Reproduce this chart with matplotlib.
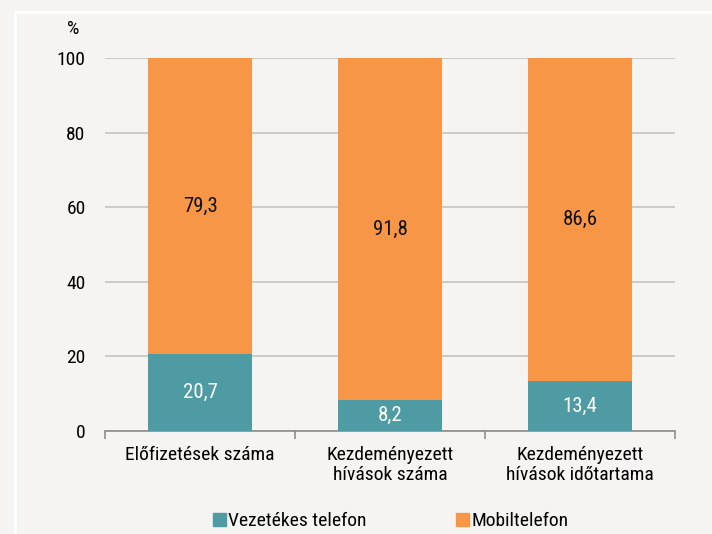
import matplotlib
matplotlib.use("Agg")
import matplotlib.pyplot as plt
from matplotlib.patches import Rectangle, Patch

plt.rcParams['font.family'] = ['Roboto Condensed', 'Liberation Sans', 'DejaVu Sans']

categories = ["Előfizetések száma", "Kezdeményezett\nhívások száma", "Kezdeményezett\nhívások időtartama"]
vezetekes = [20.7, 8.2, 13.4]
mobil = [79.3, 91.8, 86.6]
series_names = ["Vezetékes telefon", "Mobiltelefon"]
yticks = [0, 20, 40, 60, 80, 100]

teal = "#4f9ba4"
orange = "#f79646"
bg = "#f5f4f2"
FS = 14

fig = plt.figure(figsize=(7.12, 5.34), dpi=100, facecolor=bg)
fig.patches.append(Rectangle((15/712, -0.1), 1.2, 1 - 12/534 + 0.1, transform=fig.transFigure,
                             fill=False, edgecolor="white", lw=1.8, zorder=0))
ax = fig.add_axes([105/712, 1 - 431/534, 570/712, 373/534])
ax.set_facecolor(bg)

x = list(range(len(categories)))
w = 0.55
ax.bar(x, vezetekes, width=w, color=teal, zorder=3, label=series_names[0])
ax.bar(x, mobil, width=w, bottom=vezetekes, color=orange, zorder=3, label=series_names[1])

for i in x:
    ax.text(i, vezetekes[i] / 2, f"{vezetekes[i]:.1f}".replace(".", ","), ha="center", va="center",
            color="white", fontsize=FS + 1, zorder=4)
    ax.text(i, vezetekes[i] + mobil[i] / 2, f"{mobil[i]:.1f}".replace(".", ","), ha="center", va="center",
            color="#111111", fontsize=FS + 1, zorder=4)

ax.set_xlim(-0.5, 2.5)
ax.set_ylim(0, 100)
ax.set_yticks(yticks)
ax.set_yticklabels([str(t) for t in yticks], fontsize=FS)
ax.yaxis.grid(True, color="#c3c3c3", lw=1.2, zorder=0)
ax.set_axisbelow(True)
ax.tick_params(axis="y", length=0, pad=14)

ax.set_xticks([-0.5, 0.5, 1.5, 2.5])
ax.set_xticklabels([])
ax.set_xticks(x, minor=True)
ax.set_xticklabels(categories, minor=True, fontsize=FS, linespacing=1.1)
ax.tick_params(axis="x", which="major", length=6, color="#8c8c8c", width=1.2)
ax.tick_params(axis="x", which="minor", length=0, pad=11)

for s in ["top", "right", "left"]:
    ax.spines[s].set_visible(False)
ax.spines["bottom"].set_color("#8c8c8c")
ax.spines["bottom"].set_linewidth(1.2)

fig.text(73/712, 1 - 29/534, "%", ha="center", va="center", fontsize=FS)

handles = [Patch(color=teal), Patch(color=orange)]
fig.legend(handles, series_names, loc="center", bbox_to_anchor=(391/712, 1 - 521/534), ncol=2,
           frameon=False, fontsize=FS, handlelength=0.65, handleheight=0.65, handletextpad=0.15,
           columnspacing=4.6, borderpad=0)

fig.savefig("out.png", dpi=100, facecolor=bg)
